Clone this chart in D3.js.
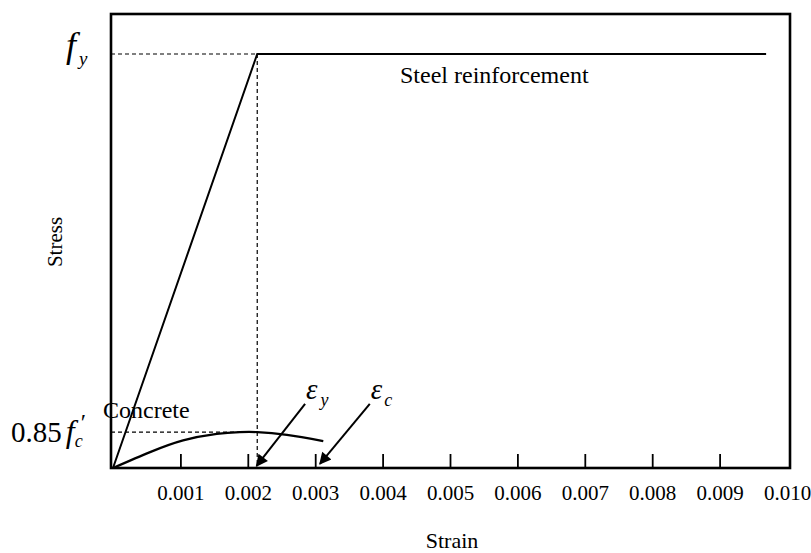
<!DOCTYPE html>
<html lang="en">
<head>
<meta charset="UTF-8">
<script src="https://cdnjs.cloudflare.com/ajax/libs/d3/7.8.5/d3.min.js"></script>
<style>
  body { margin: 0; background: #fff; }
  text { font-family: "Liberation Serif", "Times New Roman", serif; fill: #000; }
</style>
</head>
<body>
<div id="chart"></div>
<script>
// tick values and labels on the strain axis
var strainTicks = [0.001, 0.002, 0.003, 0.004, 0.005, 0.006, 0.007, 0.008, 0.009, 0.010];
var strainTickLabels = ["0.001", "0.002", "0.003", "0.004", "0.005", "0.006", "0.007", "0.008", "0.009", "0.010"];

// steel: elastic-perfectly plastic
var steelStrain = [0, 0.00214, 0.00969];
var steelStress = [0, 60, 60];

// concrete curve
var concreteStrain = [0, 0.00055, 0.00104, 0.00154, 0.00188, 0.00214, 0.00258, 0.00312];
var concreteStress = [0, 2.3, 4.0, 4.95, 5.2, 5.2, 4.8, 3.9];

// reference levels
var fy = 60, fcPeak = 5.2, eyStrain = 0.00214;

// arrows: [tailStrain, tailStress, tipStrain, tipStress]
var arrowEy = [0.00285, 9.3, 0.00213, 0.3];
var arrowEc = [0.00381, 9.3, 0.00307, 0.6];

var width = 811, height = 553;
var svg = d3.select("#chart").append("svg")
    .attr("width", width)
    .attr("height", height);

var x = d3.scaleLinear().domain([0, 0.010]).range([113, 787]);
var y = d3.scaleLinear().domain([0, 65.8]).range([468, 14]);

var frame = {left: 111, top: 14, right: 790, bottom: 468};

svg.append("defs").append("marker")
    .attr("id", "arrowhead")
    .attr("viewBox", "0 0 10 10")
    .attr("refX", 9).attr("refY", 5)
    .attr("markerWidth", 9).attr("markerHeight", 6)
    .attr("markerUnits", "strokeWidth")
    .attr("orient", "auto")
    .append("path")
    .attr("d", "M0,0 L10,5 L0,10 Z")
    .attr("fill", "#000");

// dashed guide lines
svg.append("line")
    .attr("x1", frame.left).attr("x2", x(eyStrain))
    .attr("y1", y(fy)).attr("y2", y(fy))
    .attr("stroke", "#000").attr("stroke-width", 1.2).attr("stroke-dasharray", "4,3");
svg.append("line")
    .attr("x1", x(eyStrain)).attr("x2", x(eyStrain))
    .attr("y1", y(fy)).attr("y2", y(0))
    .attr("stroke", "#000").attr("stroke-width", 1.2).attr("stroke-dasharray", "4,3");
svg.append("line")
    .attr("x1", frame.left).attr("x2", x(eyStrain))
    .attr("y1", y(fcPeak)).attr("y2", y(fcPeak))
    .attr("stroke", "#000").attr("stroke-width", 1.2).attr("stroke-dasharray", "4,3");

// x axis ticks (inward)
var xAxis = d3.axisBottom(x)
    .tickValues(strainTicks)
    .tickFormat(function (d, i) { return strainTickLabels[i]; })
    .tickSizeInner(-14)
    .tickSizeOuter(0)
    .tickPadding(17);
var gx = svg.append("g")
    .attr("transform", "translate(0," + frame.bottom + ")")
    .call(xAxis);
gx.select(".domain").remove();
gx.selectAll(".tick line").attr("stroke", "#000").attr("stroke-width", 1.8);
gx.selectAll(".tick").filter(function (d) { return d === 0.010; }).select("line").remove();
gx.selectAll(".tick text")
    .style("font-family", "'Liberation Serif', serif")
    .style("font-size", "21px");

// frame
svg.append("rect")
    .attr("x", frame.left).attr("y", frame.top)
    .attr("width", frame.right - frame.left)
    .attr("height", frame.bottom - frame.top)
    .attr("fill", "none")
    .attr("stroke", "#000")
    .attr("stroke-width", 2.6);

// curves
var steelData = steelStrain.map(function (d, i) { return [d, steelStress[i]]; });
var concreteData = concreteStrain.map(function (d, i) { return [d, concreteStress[i]]; });

var line = d3.line()
    .x(function (d) { return x(d[0]); })
    .y(function (d) { return y(d[1]); });

svg.append("path")
    .datum(steelData)
    .attr("d", line)
    .attr("fill", "none")
    .attr("stroke", "#000")
    .attr("stroke-width", 2);

svg.append("path")
    .datum(concreteData)
    .attr("d", line.curve(d3.curveNatural))
    .attr("fill", "none")
    .attr("stroke", "#000")
    .attr("stroke-width", 2.2);

// arrows
[arrowEy, arrowEc].forEach(function (a) {
    svg.append("line")
        .attr("x1", x(a[0])).attr("y1", y(a[1]))
        .attr("x2", x(a[2])).attr("y2", y(a[3]))
        .attr("stroke", "#000")
        .attr("stroke-width", 2)
        .attr("marker-end", "url(#arrowhead)");
});

// labels
svg.append("text")
    .attr("x", 400).attr("y", 83)
    .style("font-size", "24px")
    .text("Steel reinforcement");

svg.append("text")
    .attr("x", 103).attr("y", 418)
    .style("font-size", "24px")
    .text("Concrete");

var eyLabel = svg.append("text")
    .attr("x", x(arrowEy[0]) + 1).attr("y", y(arrowEy[1]) - 5);
eyLabel.append("tspan").style("font-size", "29px").style("font-style", "italic").text("\u03b5");
eyLabel.append("tspan").attr("dy", 7).attr("dx", 3).style("font-size", "18px").style("font-style", "italic").text("y");

var ecLabel = svg.append("text")
    .attr("x", x(arrowEc[0]) + 1).attr("y", y(arrowEc[1]) - 5);
ecLabel.append("tspan").style("font-size", "29px").style("font-style", "italic").text("\u03b5");
ecLabel.append("tspan").attr("dy", 7).attr("dx", 2).style("font-size", "18px").style("font-style", "italic").text("c");

// left level labels
var fyLabel = svg.append("text")
    .attr("x", 66).attr("y", y(fy) + 3);
fyLabel.append("tspan").style("font-size", "36px").style("font-style", "italic").text("f");
fyLabel.append("tspan").attr("dy", 8).attr("dx", 3).style("font-size", "19px").style("font-style", "italic").text("y");

var fcLabel = svg.append("text")
    .attr("x", 11).attr("y", y(fcPeak) + 10);
fcLabel.append("tspan").style("font-size", "29px").text("0.85");
fcLabel.append("tspan").attr("dx", 4).style("font-size", "32px").style("font-style", "italic").text("f");
fcLabel.append("tspan").attr("dy", 5).attr("dx", 0).style("font-size", "18px").style("font-style", "italic").text("c");
fcLabel.append("tspan").attr("dy", -17).attr("dx", -2).style("font-size", "24px").text("\u2032");

// axis titles
svg.append("text")
    .attr("transform", "translate(62,242) rotate(-90)")
    .attr("text-anchor", "middle")
    .style("font-size", "21px")
    .text("Stress");

svg.append("text")
    .attr("x", 452).attr("y", 548)
    .attr("text-anchor", "middle")
    .style("font-size", "22px")
    .text("Strain");
</script>
</body>
</html>
